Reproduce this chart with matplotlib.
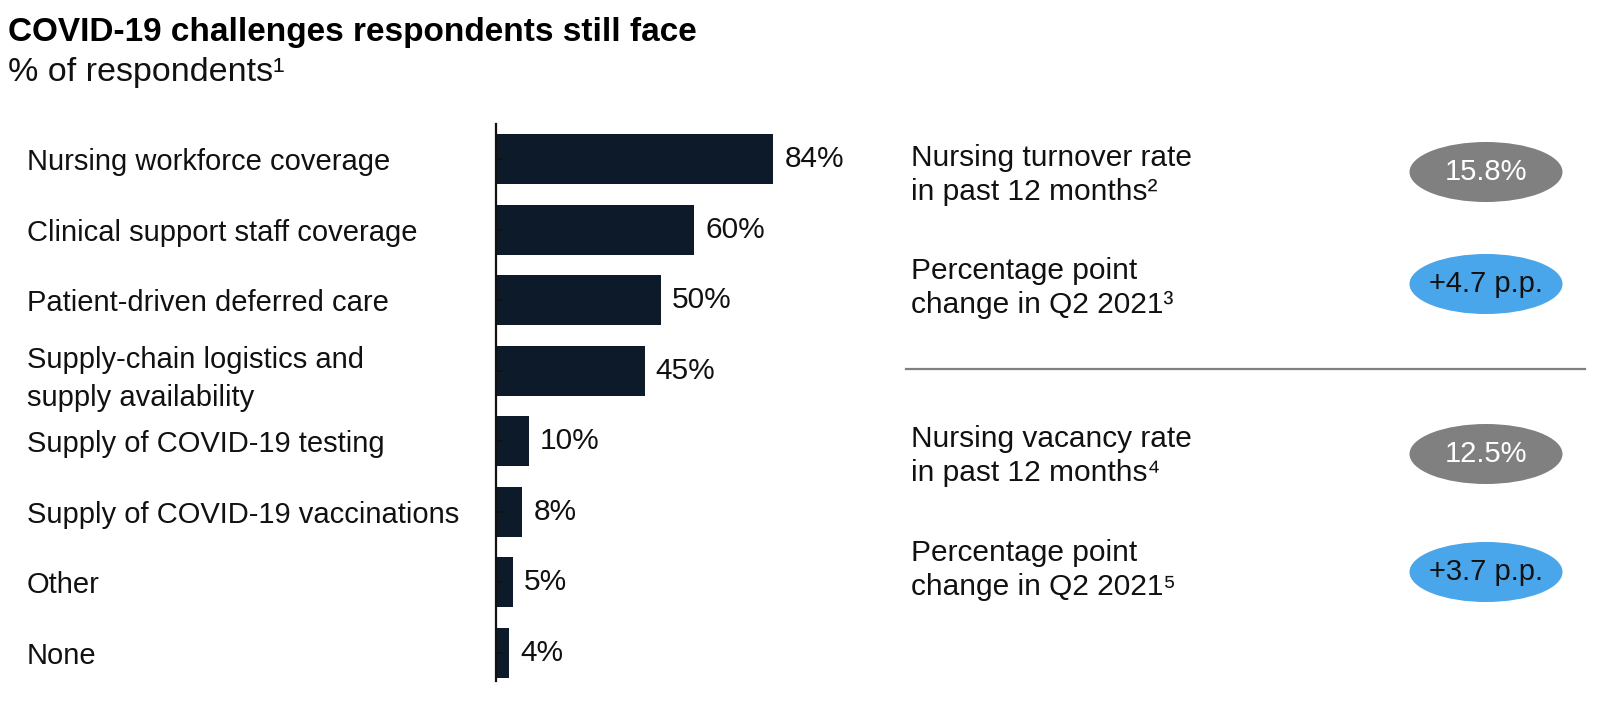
import matplotlib.pyplot as plt
from matplotlib.patches import Ellipse

plt.rcParams['font.family'] = ['Liberation Sans', 'DejaVu Sans']

# data
categories = [
    "Nursing workforce coverage",
    "Clinical support staff coverage",
    "Patient-driven deferred care",
    "Supply-chain logistics and\nsupply availability",
    "Supply of COVID-19 testing",
    "Supply of COVID-19 vaccinations",
    "Other",
    "None",
]
values = [84, 60, 50, 45, 10, 8, 5, 4]

metric_labels = [
    "Nursing turnover rate\nin past 12 months\u00b2",
    "Percentage point\nchange in Q2 2021\u00b3",
    "Nursing vacancy rate\nin past 12 months\u2074",
    "Percentage point\nchange in Q2 2021\u2075",
]
metric_values = ["15.8%", "+4.7 p.p.", "12.5%", "+3.7 p.p."]
metric_kind = ["rate", "change", "rate", "change"]

W, H = 1600, 701
bar_color = "#0d1a2a"
grey = "#808080"
blue = "#4aa6ea"

fig = plt.figure(figsize=(W / 100, H / 100), dpi=100)

# bar chart axes (pixel layout converted to figure fractions)
ax = fig.add_axes([496 / W, (H - 681) / H, 330 / W, 557 / H])
pos = list(range(len(categories)))
ax.barh(pos, values, height=0.71, color=bar_color)
ax.set_xlim(0, 100)
ax.set_ylim(7.4, -0.5)
for v, p in zip(values, pos):
    ax.annotate(f"{v}%", (v, p), xytext=(8, 0), textcoords="offset points",
                va="center", ha="left", fontsize=21.5, color="#111111")
ax.set_yticks(pos)
ax.set_yticklabels(categories, ha="left", fontsize=21, color="#111111",
                   linespacing=1.45)
ax.tick_params(axis="y", direction="in", length=5, width=1.2,
               color="#111111", pad=338)
ax.set_xticks([])
for s in ["top", "right", "bottom"]:
    ax.spines[s].set_visible(False)
ax.spines["left"].set_linewidth(1.6)
ax.spines["left"].set_color("#111111")

# overlay in pixel coordinates for titles and the right panel
ov = fig.add_axes([0, 0, 1, 1])
ov.set_xlim(0, W)
ov.set_ylim(H, 0)
ov.axis("off")

ov.text(8, 32, "COVID-19 challenges respondents still face", fontsize=24,
        fontweight="bold", va="center", ha="left", color="#000000")
ov.text(8, 73, "% of respondents\u00b9", fontsize=24.5, va="center", ha="left",
        color="#111111")

text_y = [175, 288, 456, 570]
for lab, val, kind, y in zip(metric_labels, metric_values, metric_kind, text_y):
    ov.text(911, y, lab, fontsize=21.5, va="center", ha="left",
            linespacing=1.3, color="#111111")
for val, kind, y in zip(metric_values, metric_kind, [172, 284, 454, 572]):
    fc = grey if kind == "rate" else blue
    tc = "white" if kind == "rate" else "#111111"
    ov.add_patch(Ellipse((1486, y), 153, 60, facecolor=fc, edgecolor="none"))
    ov.text(1486, y, val, fontsize=21, va="center", ha="center", color=tc)

ov.plot([906, 1585], [369, 369], color=grey, lw=1.6)

fig.savefig("out.png", dpi=100)
